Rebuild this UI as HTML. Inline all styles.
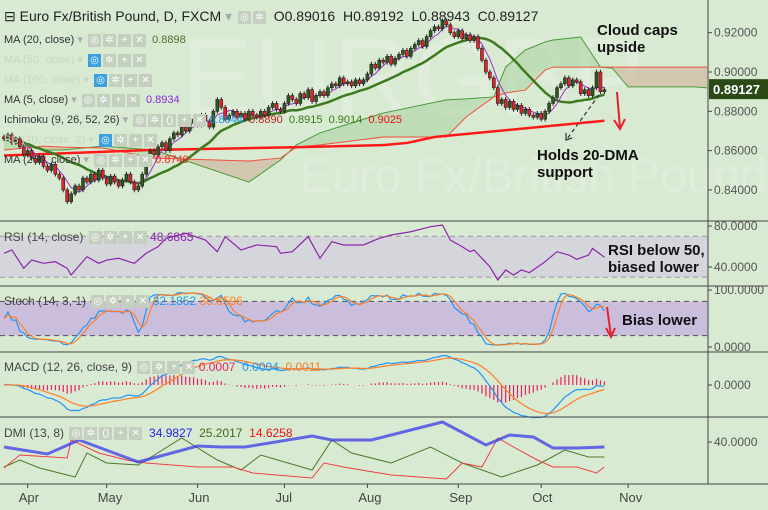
<!DOCTYPE html>
<html><head><meta charset="utf-8">
<style>
body{margin:0;background:#d9ead3;}
#wrap{position:relative;width:768px;height:510px;overflow:hidden;background:#d9ead3;font-family:"Liberation Sans",sans-serif;}
svg{position:absolute;left:0;top:0;}
.lg{position:absolute;left:4px;font-size:11px;color:#333;white-space:nowrap;}
.ib{display:inline-block;width:13px;height:13px;background:#c4cfbf;vertical-align:middle;margin-left:2px;color:#fff;font-size:10px;text-align:center;line-height:13px;}
.ann{position:absolute;font-weight:bold;font-size:15px;color:#111;line-height:17px;}
</style></head>
<body>
<div id="wrap">
<svg id="svg" width="768" height="510"></svg>
<div class="lg" style="top:8px;font-size:14px;color:#222">⊟ Euro Fx/British Pound, D, FXCM <span style="color:#aaa">▾</span> <span class="ib">◎</span><span class="ib">✲</span> &nbsp;O0.89016 &nbsp;H0.89192 &nbsp;L0.88943 &nbsp;C0.89127</div>
<div class="lg" style="top:33px">MA (20, close) <span style="color:#aaa">▾</span> <span class="ib">◎</span><span class="ib">✲</span><span class="ib">+</span><span class="ib">✕</span> &nbsp;<span style="color:#556b2f">0.8898</span></div>
<div class="lg" style="top:53px;color:#c8d6c3">MA (50, close) ▾ <span class="ib" style="background:#3aa0e0">◎</span><span class="ib">✲</span><span class="ib">+</span><span class="ib">✕</span></div>
<div class="lg" style="top:73px;color:#c8d6c3">MA (100, close) ▾ <span class="ib" style="background:#3aa0e0">◎</span><span class="ib">✲</span><span class="ib">+</span><span class="ib">✕</span></div>
<div class="lg" style="top:93px">MA (5, close) <span style="color:#aaa">▾</span> <span class="ib">◎</span><span class="ib">✲</span><span class="ib">+</span><span class="ib">✕</span> &nbsp;<span style="color:#8a2be2">0.8934</span></div>
<div class="lg" style="top:113px">Ichimoku (9, 26, 52, 26) <span style="color:#aaa">▾</span> <span class="ib">◎</span><span class="ib">✲</span><span class="ib">()</span><span class="ib">+</span><span class="ib">✕</span> <span style="color:#2196f3">0.8944</span> &nbsp;<span style="color:#b22">0.8890</span> &nbsp;<span style="color:#3a7a1a">0.8915</span> &nbsp;<span style="color:#3a7a1a">0.9014</span> &nbsp;<span style="color:#e11">0.9025</span></div>
<div class="lg" style="top:133px;color:#c8d6c3">BB (20, close, 2) ▾ <span class="ib" style="background:#3aa0e0">◎</span><span class="ib">✲</span><span class="ib">+</span><span class="ib">✕</span></div>
<div class="lg" style="top:153px">MA (200, close) <span style="color:#aaa">▾</span> <span class="ib">◎</span><span class="ib">✲</span><span class="ib">+</span><span class="ib">✕</span> <span style="color:#f22">0.8749</span></div>
<div class="lg" style="top:230px;font-size:12px;color:#444">RSI (14, close) <span class="ib">◎</span><span class="ib">✲</span><span class="ib">+</span><span class="ib">✕</span> <span style="color:#8e24aa">48.6865</span></div>
<div class="lg" style="top:294px;font-size:12px;color:#444">Stoch (14, 3, 1) <span class="ib">◎</span><span class="ib">✲</span><span class="ib">+</span><span class="ib">✕</span> <span style="color:#2196f3">32.1852</span> <span style="color:#ff7f27">36.6596</span></div>
<div class="lg" style="top:360px;font-size:12px;color:#444">MACD (12, 26, close, 9) <span class="ib">◎</span><span class="ib">✲</span><span class="ib">+</span><span class="ib">✕</span> <span style="color:#e91e63">0.0007</span> &nbsp;<span style="color:#2196f3">0.0004</span> &nbsp;<span style="color:#ff7f27">0.0011</span></div>
<div class="lg" style="top:426px;font-size:12px;color:#444">DMI (13, 8) <span class="ib">◎</span><span class="ib">✲</span><span class="ib">()</span><span class="ib">+</span><span class="ib">✕</span> &nbsp;<span style="color:#22e">34.9827</span> &nbsp;<span style="color:#3a6a1a">25.2017</span> &nbsp;<span style="color:#e11">14.6258</span></div>
<div class="ann" style="left:597px;top:22px">Cloud caps<br>upside</div>
<div class="ann" style="left:537px;top:147px">Holds 20-DMA<br>support</div>
<div class="ann" style="left:608px;top:242px;font-size:15px">RSI below 50,<br>biased lower</div>
<div class="ann" style="left:622px;top:312px">Bias lower</div>
</div>
<script>
const closes=[0.866,0.868,0.864,0.866,0.862, 0.858,0.860,0.856,0.854,0.857, 0.852,0.850,0.853,0.848,0.846,
0.840,0.834,0.838,0.842,0.840, 0.846,0.844,0.848,0.845,0.850, 0.846,0.843,0.847,0.844,0.842,
0.845,0.848,0.844,0.840,0.842, 0.848,0.856,0.860,0.858,0.862, 0.864,0.860,0.866,0.869,0.868,
0.872,0.870,0.874,0.876,0.873, 0.878,0.875,0.872,0.880,0.886, 0.882,0.876,0.878,0.880,0.877,
0.879,0.876,0.880,0.878,0.877, 0.880,0.878,0.882,0.884,0.881, 0.880,0.884,0.888,0.886,0.884,
0.889,0.887,0.891,0.885,0.888, 0.890,0.888,0.892,0.894,0.893, 0.897,0.894,0.895,0.893,0.896,
0.894,0.896,0.899,0.904,0.902, 0.906,0.905,0.908,0.904,0.907, 0.909,0.911,0.908,0.912,0.914,
0.916,0.913,0.918,0.921,0.923, 0.922,0.926,0.924,0.920,0.918, 0.921,0.917,0.919,0.916,0.918,
0.912,0.906,0.900,0.897,0.892, 0.884,0.886,0.882,0.885,0.881, 0.883,0.879,0.881,0.878,0.877,
0.879,0.876,0.880,0.884,0.887, 0.892,0.894,0.897,0.893,0.896, 0.895,0.889,0.891,0.888,0.892,
0.900,0.890,0.891];
const cloudIdx=[0,10,15,25,38,62,70,74,80,96,112,117,124,127,132,137,139,146,151,154,158,175,178];
const spanA=[0.8654,0.8603,0.8603,0.8623,0.8603,0.8440,0.8552,0.8629,0.8690,0.8791,0.8858,0.8863,0.8873,0.9025,0.9112,0.9153,0.9163,0.9178,0.9025,0.9020,0.8924,0.8924,0.8919];
const spanB=[0.8603,0.8623,0.8618,0.8613,0.8562,0.8547,0.8562,0.8618,0.8629,0.8669,0.8669,0.8771,0.8873,0.8893,0.8908,0.9010,0.9025,0.9025,0.9025,0.9025,0.9025,0.9025,0.9025];
const ma200Idx=[0,37,75,96,102,109,152];
const ma200=[0.8575,0.8603,0.8618,0.8628,0.8639,0.8669,0.8752];
const rsiIdx=[0,2,5,7,10,13,16,17,21,24,26,29,33,36,39,41,46,51,54,56,60,64,69,70,73,77,80,83,86,91,95,98,103,108,111,113,116,118,119,123,125,127,129,131,133,134,137,140,143,145,148,149,152];
const rsiVals=[53.4,56.6,38.7,46.8,43.6,45.2,38.7,32.2,50,43.6,46.8,48.5,43.6,53.4,59.8,68,72.9,66.3,54.9,69.6,56.6,61.5,59.8,53.4,54.9,69.6,48.5,64.7,61.5,61.5,68,71.2,74.4,79.3,81,66.3,59.8,54.9,56.6,40.3,27.3,37.1,32.2,37.1,34.5,37.1,45.2,54.9,51.7,47.5,51.7,58.2,49.5];
const dmiAdxIdx=[0,11,19,34,49,55,61,78,83,93,111,122,128,134,139,145,152];
const dmiAdx=[35,28,42,20,36,35,35,46,42,42,60,37,47,45,34,34,35];
const dmiPlusIdx=[0,4,9,18,21,26,34,45,54,60,65,78,83,88,98,108,116,126,135,142,148,152];
const dmiPlus=[15,22,14,5,29,19,17,44,22,12,27,12,42,29,19,35,19,5,17,32,25,25];
const dmiMinusIdx=[0,4,16,17,24,31,36,49,58,63,78,81,86,98,112,116,121,125,129,135,139,145,150,152];
const dmiMinus=[14,27,24,42,29,22,19,15,15,9,4,19,15,7,3,19,15,44,35,22,15,15,9,15];
const priceTicks=[0.92,0.90,0.88,0.86,0.84];
const priceTickLabels=["0.92000","0.90000","0.88000","0.86000","0.84000"];
const months=["Apr","May","Jun","Jul","Aug","Sep","Oct","Nov"];
const monthIdx=[6,26,49,71,92,115,136,158];

const svg=document.getElementById('svg');
const NS='http://www.w3.org/2000/svg';
function mk(tag,attrs,name,parent){const e=document.createElementNS(NS,tag);for(const k in attrs)e.setAttribute(k,attrs[k]);


(parent||svg).appendChild(e);return e;}
const bx=i=>4+i*3.95;
const py=p=>72+(0.90-p)*1965;
const rsiY=v=>267-(v-40)*1.025;
const stY=v=>347-v*0.57;
const mY=v=>385-v*3800;
const dY=v=>442-(v-40);
const axX=708;

// watermark
let wm=mk('text',{x:180,y:115,'font-size':110,fill:'#fff','fill-opacity':0.16,'font-family':'Liberation Sans'},'watermark-symbol');wm.textContent='EURGBP';
let wm2=mk('text',{x:300,y:192,'font-size':48,fill:'#fff','fill-opacity':0.16,'font-family':'Liberation Sans'},'watermark-name');wm2.textContent='Euro Fx/British Pound';

// cloud
for(let k=0;k<cloudIdx.length-1;k++){
 const x1=bx(cloudIdx[k]),x2=bx(cloudIdx[k+1]);
 const up=(spanA[k]+spanA[k+1])>=(spanB[k]+spanB[k+1]);
 mk('polygon',{points:`${x1},${py(spanA[k])} ${x2},${py(spanA[k+1])} ${x2},${py(spanB[k+1])} ${x1},${py(spanB[k])}`,fill:up?'rgba(110,180,90,0.25)':'rgba(205,160,130,0.45)'},'cloud-segment');
}
const line=(idx,vals,fy,attrs,name)=>mk('polyline',Object.assign({points:idx.map((i,k)=>bx(i)+','+fy(vals[k])).join(' '),fill:'none'},attrs),name);
line(cloudIdx,spanA,py,{stroke:'#4a9a3a','stroke-width':1},'ichimoku-span-a');
line(cloudIdx,spanB,py,{stroke:'#f05040','stroke-width':1},'ichimoku-span-b');
line(ma200Idx,ma200,py,{stroke:'#ff1a1a','stroke-width':2.5},'ma200-line');

const idxAll=closes.map((c,i)=>i);
function sma(n){return closes.map((c,i)=>{const s=closes.slice(Math.max(0,i-n+1),i+1);return s.reduce((a,b)=>a+b,0)/s.length;});}
line(idxAll,sma(20),py,{stroke:'#3d7a1f','stroke-width':2.5},'ma20-line');
line(idxAll,sma(5),py,{stroke:'#9932cc','stroke-width':1},'ma5-line');

// candles
closes.forEach((c,i)=>{
 const o=i>0?closes[i-1]:c+0.001;const x=bx(i);
 const hi=Math.max(o,c)+0.0012,lo=Math.min(o,c)-0.0012;
 mk('line',{x1:x,x2:x,y1:py(hi),y2:py(lo),stroke:'#222','stroke-width':1},'candle-wick');
 const t=py(Math.max(o,c)),b=py(Math.min(o,c));
 mk('rect',{x:x-1.5,y:t,width:3,height:Math.max(1,b-t),fill:c>=o?'#2e5a1c':'#e8202a',stroke:'#222','stroke-width':0.6},'candle');
});

// RSI
mk('rect',{x:0,y:rsiY(70),width:axX,height:rsiY(30)-rsiY(70),fill:'#d4d6dc'},'rsi-band');
[70,30].forEach(v=>mk('line',{x1:0,x2:axX,y1:rsiY(v),y2:rsiY(v),stroke:'#999','stroke-dasharray':'5,4'},'rsi-level'));
line(rsiIdx,rsiVals,rsiY,{stroke:'#8e24aa','stroke-width':1.2},'rsi-line');

// Stoch
function stoch(){const raw=closes.map((c,i)=>{const s=[];for(let j=Math.max(0,i-13);j<=i;j++){s.push(closes[j]);if(j>0)s.push(closes[j-1]);}const h=Math.max(...s)+0.0012,l=Math.min(...s)-0.0012;return 100*(c-l)/(h-l);});
 const k=raw.map((v,i)=>{const s=raw.slice(Math.max(0,i-2),i+1);return s.reduce((a,b)=>a+b,0)/s.length;});
 const d=k.map((v,i)=>{const s=k.slice(Math.max(0,i-2),i+1);return s.reduce((a,b)=>a+b,0)/s.length;});return [k,d];}
const [sk,sd]=stoch();
mk('rect',{x:0,y:stY(80),width:axX,height:stY(20)-stY(80),fill:'#cabedc'},'stoch-band');
[80,20].forEach(v=>mk('line',{x1:0,x2:axX,y1:stY(v),y2:stY(v),stroke:'#555','stroke-dasharray':'5,4'},'stoch-level'));
line(idxAll,sk,stY,{stroke:'#2196f3','stroke-width':1.2},'stoch-k-line');
line(idxAll,sd,stY,{stroke:'#ff7f27','stroke-width':1.2},'stoch-d-line');

// MACD
function ema(arr,n){const a=2/(n+1);const o=[];arr.forEach((v,i)=>o.push(i?o[i-1]+a*(v-o[i-1]):v));return o;}
const e12=ema(closes,12),e26=ema(closes,26);const macd=e12.map((v,i)=>v-e26[i]);const sig=ema(macd,9);
macd.forEach((v,i)=>{const h=v-sig[i];mk('line',{x1:bx(i),x2:bx(i),y1:mY(0),y2:mY(h),stroke:'#e91e63','stroke-width':1.2},'macd-histogram-bar');});
line(idxAll,macd,mY,{stroke:'#2196f3','stroke-width':1.2},'macd-line');
line(idxAll,sig,mY,{stroke:'#ff7f27','stroke-width':1.2},'macd-signal-line');

// DMI
line(dmiPlusIdx,dmiPlus,dY,{stroke:'#4a7a2a','stroke-width':1},'dmi-plus-line');
line(dmiMinusIdx,dmiMinus,dY,{stroke:'#f04040','stroke-width':1},'dmi-minus-line');
line(dmiAdxIdx,dmiAdx,dY,{stroke:'#3a3ae8','stroke-width':3,'stroke-opacity':0.75},'dmi-adx-line');

// annotations arrows
mk('line',{x1:617,y1:92,x2:620,y2:128,stroke:'#e8202a','stroke-width':2},'arrow-down-main');
mk('polyline',{points:'614,120 620,129 625,119',fill:'none',stroke:'#e8202a','stroke-width':2},'arrow-head-main');
mk('line',{x1:599,y1:95,x2:567,y2:139,stroke:'#333','stroke-width':1.2,'stroke-dasharray':'4,3'},'arrow-dashed');
mk('polyline',{points:'566,133 566,140 572,138',fill:'none',stroke:'#333','stroke-width':1.2},'arrow-dashed-head');
mk('line',{x1:607,y1:307,x2:611,y2:336,stroke:'#e8202a','stroke-width':2},'arrow-down-stoch');
mk('polyline',{points:'606,328 611,337 615,328',fill:'none',stroke:'#e8202a','stroke-width':2},'arrow-head-stoch');

// separators & axes
[221,286,352,417,484].forEach(y=>mk('line',{x1:0,x2:768,y1:y,y2:y,stroke:'#444','stroke-width':1},'pane-separator'));
mk('line',{x1:axX,x2:axX,y1:0,y2:484,stroke:'#444','stroke-width':1},'price-axis-line');
const txt=(x,y,s,name,attrs)=>{const t=mk('text',Object.assign({x:x,y:y,'font-size':12,fill:'#555','font-family':'Liberation Sans'},attrs||{}),name);t.textContent=s;return t;};
priceTicks.forEach((p,k)=>{mk('line',{x1:axX,x2:axX+4,y1:py(p),y2:py(p),stroke:'#444'},'price-tick');txt(714,py(p)+4,priceTickLabels[k],'price-tick-label');});
const rsiT=[80,40],rsiTL=["80.0000","40.0000"];
rsiT.forEach((v,k)=>{mk('line',{x1:axX,x2:axX+4,y1:rsiY(v),y2:rsiY(v),stroke:'#444'},'rsi-tick');txt(714,rsiY(v)+4,rsiTL[k],'rsi-tick-label');});
const stT=[100,0],stTL=["100.0000","0.0000"];
stT.forEach((v,k)=>{mk('line',{x1:axX,x2:axX+4,y1:stY(v),y2:stY(v),stroke:'#444'},'stoch-tick');txt(714,stY(v)+4,stTL[k],'stoch-tick-label');});
mk('line',{x1:axX,x2:axX+4,y1:mY(0),y2:mY(0),stroke:'#444'},'macd-tick');txt(714,mY(0)+4,'0.0000','macd-tick-label');
mk('line',{x1:axX,x2:axX+4,y1:dY(40),y2:dY(40),stroke:'#444'},'dmi-tick');txt(714,dY(40)+4,'40.0000','dmi-tick-label');
mk('rect',{x:709,y:py(0.89127)-10,width:59,height:20,fill:'#2b4a18'},'last-price-box');
txt(713,py(0.89127)+5,'0.89127','last-price-label',{fill:'#fff','font-size':13,'font-weight':'bold'});
months.forEach((m,k)=>{const x=bx(monthIdx[k]);mk('line',{x1:x,x2:x,y1:484,y2:488,stroke:'#444'},'month-tick');txt(x-9,502,m,'month-label',{fill:'#444','font-size':13});});
</script>
</body></html>
